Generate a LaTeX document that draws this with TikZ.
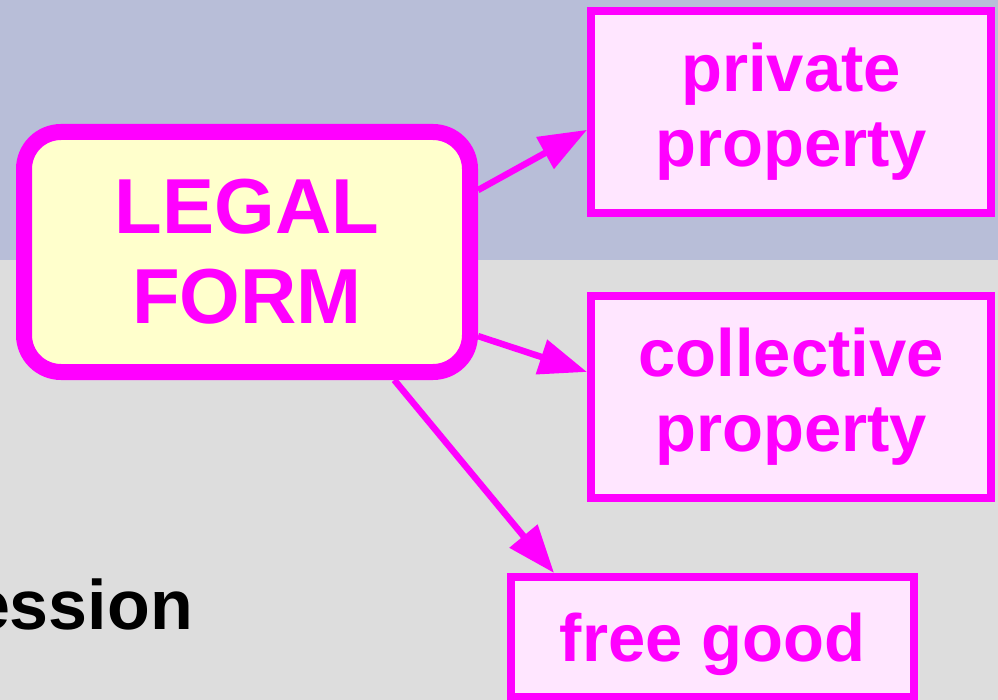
\documentclass[tikz,border=0pt]{standalone}
\usepackage{fontspec}
\setmainfont{Liberation Sans}
\usetikzlibrary{arrows.meta}
\definecolor{bandtop}{RGB}{184,190,216}
\definecolor{bandbot}{RGB}{221,221,221}
\definecolor{mag}{RGB}{255,0,255}
\definecolor{cream}{RGB}{255,255,204}
\definecolor{pinkfill}{RGB}{255,230,255}

\begin{document}
\begin{tikzpicture}[x=1pt,y=-1pt,
  mainbox/.style={draw=mag, line width=16pt, fill=cream, rounded corners=37pt,
    minimum width=446pt, minimum height=240pt, align=center, text=mag,
    font=\bfseries\fontsize{78}{90}\selectfont, inner sep=0pt},
  kindbox/.style={draw=mag, line width=8pt, fill=pinkfill,
    minimum width=400pt, minimum height=202pt, align=center, text=mag,
    font=\bfseries\fontsize{67}{75}\selectfont, inner sep=0pt},
  link/.style={draw=mag, line width=6.5pt, -{Triangle[length=48pt,width=35pt]}}
]
\useasboundingbox (0,0) rectangle (998,700);
% two-tone slide background
\fill[bandbot] (0,0) rectangle (998,700);
\fill[bandtop] (0,0) rectangle (998,260);

% boxes
\node[mainbox] (legal) at (247,252) {LEGAL\\FORM};
\node[kindbox] (private) at (791,112) {private\\property};
\node[kindbox] (collective) at (791,397) {collective\\property};
\node[kindbox, minimum width=403pt, minimum height=120pt,
  text height=55pt, text depth=7pt] (free) at (712.5,637) {free good};

% partial title word at the lower left
\node[anchor=base east, inner sep=0pt, text=black,
  font=\bfseries\fontsize{70}{84}\selectfont] (tail) at (193,629) {ession};

% connectors
\draw[link] (legal.15.5) -- (private.185.9);
\draw[link] (legal.-20) -- (collective.173.8);
\draw[link] (legal.-41.8) -- (free.158.7);
\end{tikzpicture}
\end{document}
